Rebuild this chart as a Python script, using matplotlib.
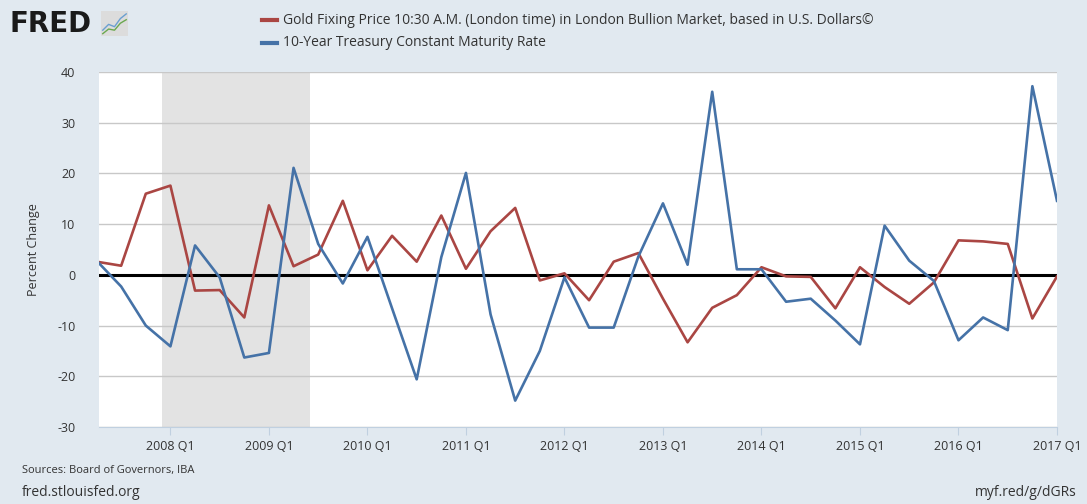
import numpy as np
import matplotlib.pyplot as plt

# quarterly data, 2007 Q2 .. 2017 Q1 (percent change)
quarters = [f'{y} Q{q}' for y in range(2007, 2018) for q in range(1, 5)][1:41]
gold = [2.6, 1.8, 16.0, 17.6, -3.1, -3.0, -8.4, 13.7, 1.7, 4.0,
        14.6, 0.9, 7.7, 2.6, 11.7, 1.2, 8.6, 13.2, -1.1, 0.3,
        -5.0, 2.6, 4.3, -4.7, -13.3, -6.5, -4.0, 1.5, -0.3, -0.4,
        -6.6, 1.5, -2.4, -5.7, -1.5, 6.8, 6.6, 6.1, -8.6, -0.3]
t10 = [2.8, -2.3, -10.0, -14.1, 5.8, -0.5, -16.3, -15.4, 21.1, 6.1,
       -1.7, 7.5, -6.6, -20.6, 3.5, 20.1, -7.8, -24.8, -15.0, -0.5,
       -10.4, -10.4, 3.6, 14.1, 2.0, 36.1, 1.1, 1.1, -5.3, -4.7,
       -9.0, -13.7, 9.7, 2.8, -1.2, -12.9, -8.4, -10.9, 37.2, 14.6]
recession = (2.67, 8.67)  # Dec 2007 - Jun 2009, in quarter index
yticks = [-30, -20, -10, 0, 10, 20, 30, 40]

red = '#aa4643'
blue = '#4572a7'
bg = '#e1e9f0'
txt = '#333333'

plt.rcParams['font.family'] = ['Open Sans', 'DejaVu Sans']

fig = plt.figure(figsize=(10.87, 5.04), dpi=100, facecolor=bg)
ax = fig.add_axes([99/1087, 1-427/504, 958/1087, 355/504])
ax.set_facecolor('white')

x = np.arange(len(quarters))
ax.axvspan(recession[0], recession[1], color='#e3e3e3', lw=0, zorder=0)
for yv in yticks:
    ax.axhline(yv, color='#c8c8c8', lw=1, zorder=1)
ax.axhline(0, color='black', lw=2.2, zorder=2)
ax.plot(x, gold, color=red, lw=1.9, zorder=3)
ax.plot(x, t10, color=blue, lw=1.9, zorder=4)

ax.set_xlim(0.1, 39)
ax.set_ylim(-30, 40)
ax.set_yticks(yticks)
ax.set_yticklabels([str(v) for v in yticks], fontsize=9, color=txt)
tick_idx = [i for i, q in enumerate(quarters) if q.endswith('Q1')]
ax.set_xticks(tick_idx)
ax.set_xticklabels([quarters[i] for i in tick_idx], fontsize=9, color=txt)
ax.tick_params(axis='y', length=0, pad=17)
ax.tick_params(axis='x', length=6, color='#c0d0e0', pad=3)
for s in ['top', 'right', 'left']:
    ax.spines[s].set_visible(False)
ax.spines['bottom'].set_color('#c0d0e0')
ax.set_ylabel('Percent Change', fontsize=9, color=txt, labelpad=12)

# header
fig.text(10/1087, 1-32/504, 'FRED', fontsize=20, fontweight='bold', color='#1a1a1a',
         family=['DejaVu Sans'])
ic = fig.add_axes([101/1087, 1-36/504, 27/1087, 25/504])
ic.set_facecolor('#dcdcdc')
ic.plot([0, 1, 2, 3, 4], [1, 2, 1.6, 3, 3.8], color='#6a9fd0', lw=1)
ic.plot([0, 1, 2, 3, 4], [0.4, 1.2, 1.0, 2.2, 2.8], color='#6aa84f', lw=1)
ic.set_xlim(-0.3, 4.3)
ic.set_ylim(0, 4.3)
ic.set_xticks([])
ic.set_yticks([])
for s in ic.spines.values():
    s.set_visible(False)

fig.lines.append(plt.Line2D([262/1087, 277/1087], [1-20/504, 1-20/504], color=red, lw=3,
                            transform=fig.transFigure))
fig.lines.append(plt.Line2D([262/1087, 277/1087], [1-43/504, 1-43/504], color=blue, lw=3,
                            transform=fig.transFigure))
fig.text(283/1087, 1-20/504,
         'Gold Fixing Price 10:30 A.M. (London time) in London Bullion Market, based in U.S. Dollars\u00a9',
         fontsize=10, color=txt, va='center')
fig.text(283/1087, 1-43/504, '10-Year Treasury Constant Maturity Rate',
         fontsize=10, color=txt, va='center')

# footer
fig.text(22/1087, 1-471/504, 'Sources: Board of Governors, IBA', fontsize=8, color=txt, va='center')
fig.text(22/1087, 1-493/504, 'fred.stlouisfed.org', fontsize=10, color=txt, va='center')
fig.text(1077/1087, 1-493/504, 'myf.red/g/dGRs', fontsize=10, color=txt, va='center', ha='right')

fig.savefig('out.png', dpi=100, facecolor=bg)
